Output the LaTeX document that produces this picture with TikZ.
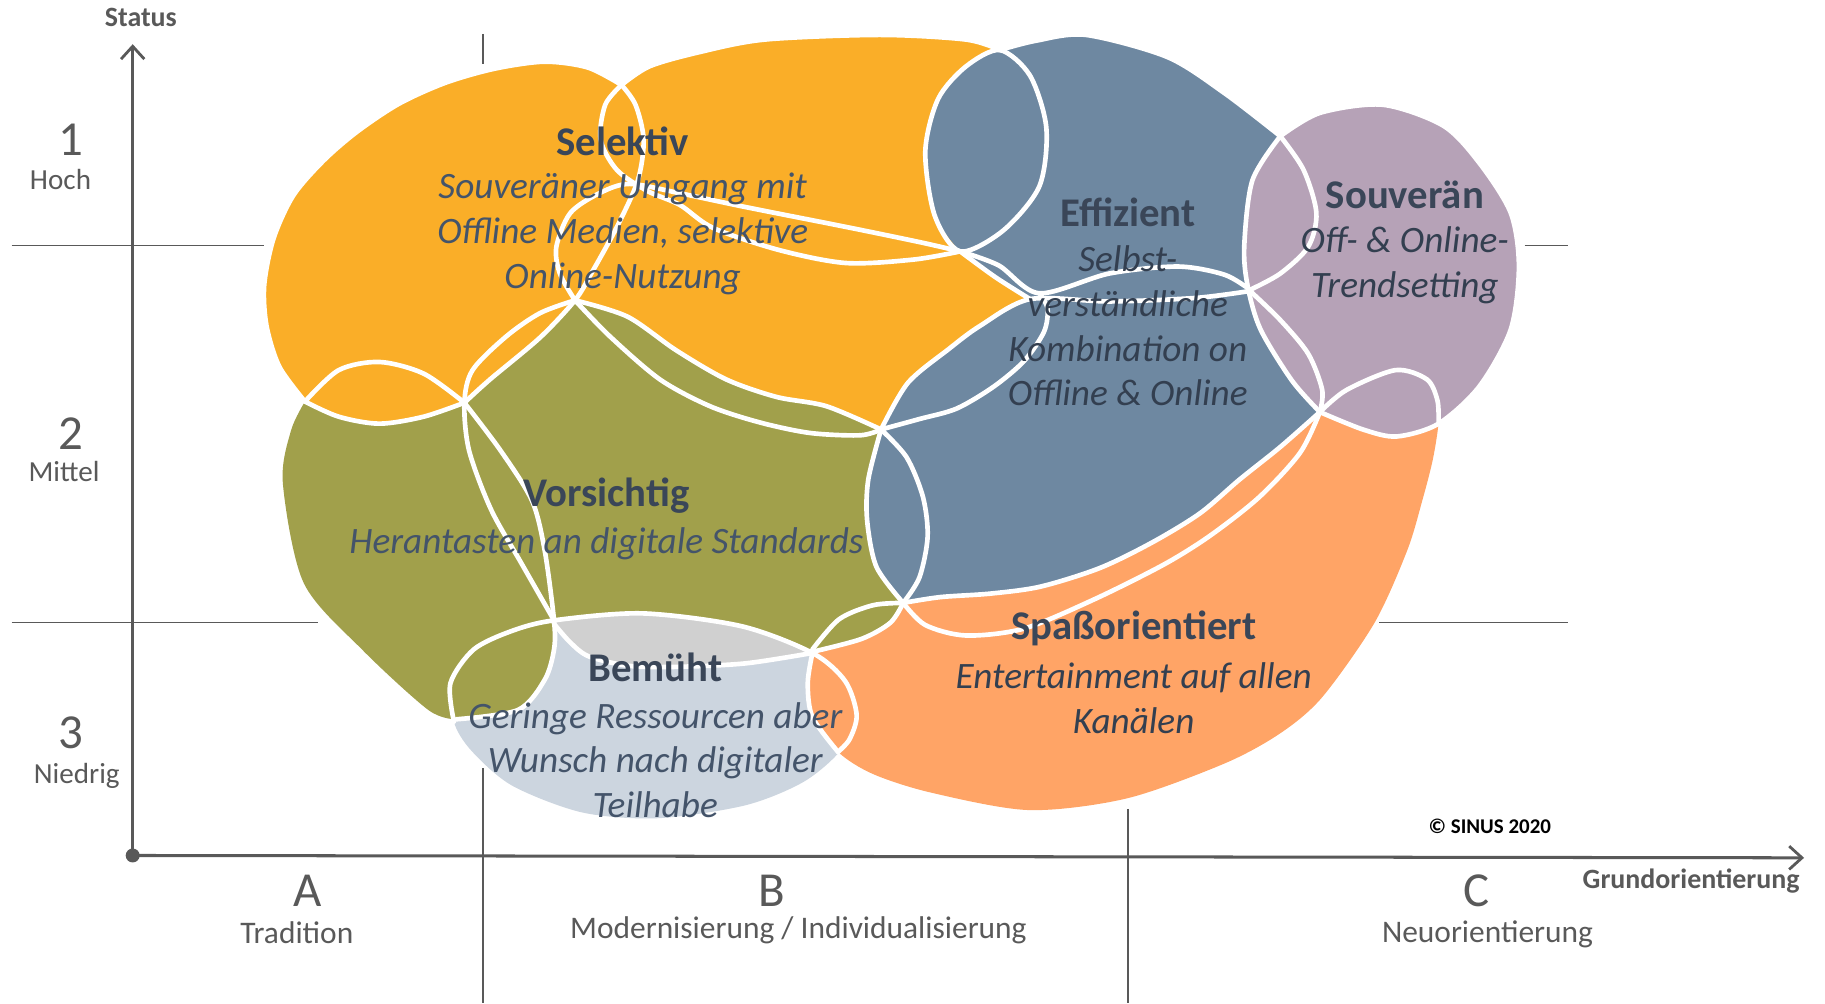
\documentclass[tikz,border=0pt]{standalone}
\usepackage{fontspec}
\setmainfont{Carlito}
\usetikzlibrary{arrows.meta}
\definecolor{cOrange}{HTML}{FAAE28}
\definecolor{cOlive}{HTML}{A1A04B}
\definecolor{cBlue}{HTML}{6E88A1}
\definecolor{cLav}{HTML}{B6A2B7}
\definecolor{cPeach}{HTML}{FFA466}
\definecolor{cLB}{HTML}{CCD5DF}
\definecolor{cGray}{HTML}{D0D0D0}
\definecolor{cTitle}{HTML}{3A4658}
\definecolor{cSub}{HTML}{44546A}
\definecolor{cSubD}{HTML}{333F50}
\definecolor{cAxis}{HTML}{595959}
\tikzset{
  wl/.style={white, line width=4pt, line cap=round, line join=round},
  gridline/.style={cAxis, line width=1.3pt},
  axisline/.style={cAxis, line width=2.6pt},
  ttl/.style={text=cTitle, inner sep=0pt, font=\fontsize{35}{40}\selectfont\bfseries},
  sub/.style={text=cSub, inner sep=0pt, align=center, font=\fontsize{32}{38.5}\selectfont\itshape},
  subd/.style={sub, text=cSubD},
  lvl/.style={text=cAxis, inner sep=0pt, text height=26pt, text depth=0pt, font=\fontsize{42}{46}\selectfont},
  lvls/.style={text=cAxis, inner sep=0pt, text height=16pt, text depth=4pt, font=\fontsize{25}{28}\selectfont},
  grp/.style={text=cAxis, inner sep=0pt, font=\fontsize{27}{30}\selectfont},
  axt/.style={text=cAxis, inner sep=0pt, font=\fontsize{24}{28}\selectfont\bfseries},
}
\begin{document}
\begin{tikzpicture}[x=1pt,y=-1pt]
\useasboundingbox (0,0) rectangle (1568,862);

% ---------- grid lines ----------
\draw[gridline] (10,211) -- (227,211);
\draw[gridline] (1310,211) -- (1347,211);
\draw[gridline] (10,535) -- (273,535);
\draw[gridline] (1185,535) -- (1347,535);
\draw[gridline] (415,29) -- (415,55);
\draw[gridline] (415,660) -- (415,862);
\draw[gridline] (969,695) -- (969,862);

% ---------- fills ----------
\fill[cLB] plot[smooth cycle] coordinates {(476,533) (552,527) (637,538) (698,561) (726,585) (736,614) (722,645) (690,672) (640,692) (565,703) (500,698) (440,675) (405,645) (390,620) (392,590) (420,555)};

\fill[cPeach] plot[smooth] coordinates {(700,561) (694,587) (698,616) (720,646) (750,665) (800,681) (884,696) (968,686) (1052,656) (1100,630) (1136,599) (1181,535) (1209,473) (1222,430) (1231,395) (1236,363) (1235,344) (1226,326) (1199,318) (1157,335) (1134,354)} -- (1000,440) -- (776,518) -- cycle;

\fill[cOlive] plot[smooth] coordinates {(262,345) (291,318) (326,311) (364,321) (399,346)}
  -- plot[smooth] coordinates {(399,346) (421,326) (464,290) (494,258)}
  -- plot[smooth] coordinates {(494,258) (539,272) (581,301) (624,326) (667,341) (710,349) (757,369)}
  -- (800,430) -- (776,518)
  -- plot[smooth] coordinates {(776,518) (765,535) (740,549) (698,560)}
  -- plot[smooth] coordinates {(698,561) (637,538) (552,527) (476,533)}
  -- plot[smooth] coordinates {(476,533) (476,558) (468,584) (445,610) (392,618)}
  -- plot[smooth] coordinates {(392,618) (368,610) (311,558) (261,501) (243,415) (250,370) (262,345)} -- cycle;

\fill[cGray] plot[smooth] coordinates {(476,533) (552,527) (637,538) (698,561)}
  -- plot[smooth] coordinates {(698,561) (640,570) (579,573) (540,572) (506,564) (490,552) (476,536)} -- cycle;

\fill[cOrange] plot[smooth] coordinates {(262,345) (240,315) (229,280) (227,245) (235,205) (252,168) (278,138) (307,113) (343,89) (383,71) (425,59) (468,53) (505,58) (534,73)}
  -- plot[smooth] coordinates {(534,73) (558,57) (600,45) (657,34) (756,30) (830,34) (859,43)}
  -- (880,100) -- (870,180) -- (825,216)
  -- plot[smooth] coordinates {(825,216) (855,238) (885,257)}
  -- plot[smooth] coordinates {(885,257) (842,280) (815,300) (780,329) (757,369)}
  -- plot[smooth] coordinates {(757,369) (710,349) (667,341) (624,326) (581,301) (539,272) (494,258)}
  -- plot[smooth] coordinates {(494,258) (464,290) (421,326) (399,346)}
  -- plot[smooth] coordinates {(399,346) (364,358) (326,364) (291,358) (262,345)} -- cycle;

\fill[cBlue] plot[smooth] coordinates {(859,43) (890,35) (933,30) (1003,49) (1052,80) (1100,117)}
  -- plot[smooth] coordinates {(1100,117) (1076,155) (1069,212) (1072,246) (1083,283) (1110,327) (1134,354)}
  -- plot[smooth] coordinates {(1134,354) (1100,384) (1065,412) (1031,441) (990,466) (945,488) (894,504) (851,510) (808,513) (776,518)}
  -- plot[smooth] coordinates {(776,518) (753,487) (745,447) (746,412) (757,369)}
  -- plot[smooth] coordinates {(757,369) (780,329) (815,300) (842,280) (885,257)}
  -- plot[smooth] coordinates {(885,257) (855,238) (825,216)}
  -- plot[smooth] coordinates {(825,216) (803,185) (795,130) (806,85) (830,57) (859,43)} -- cycle;

\fill[cLav] plot[smooth] coordinates {(1100,117) (1134,97) (1188,90) (1240,108) (1271,140) (1298,183) (1305,229) (1298,283) (1271,332) (1236,364) (1200,375) (1171,369) (1134,354)}
  -- plot[smooth] coordinates {(1134,354) (1110,327) (1083,283) (1072,246) (1069,212) (1076,155) (1100,117)} -- cycle;

% ---------- white outlines ----------
\draw[wl] plot[smooth] coordinates {(262,345) (240,315) (229,280) (227,245) (235,205) (252,168) (278,138) (307,113) (343,89) (383,71) (425,59) (468,53) (505,58) (534,73)};
\draw[wl] plot[smooth] coordinates {(534,73) (558,57) (600,45) (657,34) (756,30) (830,34) (859,43)};
\draw[wl] plot[smooth] coordinates {(859,43) (890,35) (933,30) (1003,49) (1052,80) (1100,117)};
\draw[wl] plot[smooth] coordinates {(1100,117) (1134,97) (1188,90) (1240,108) (1271,140) (1298,183) (1305,229) (1298,283) (1271,332) (1236,364) (1200,375) (1171,369) (1134,354)};
\draw[wl] plot[smooth] coordinates {(1134,354) (1110,327) (1083,283) (1072,246) (1069,212) (1076,155) (1100,117)};
\draw[wl] plot[smooth] coordinates {(1100,117) (1120,146) (1131,183) (1124,212) (1100,235) (1074,249)};
\draw[wl] plot[smooth] coordinates {(1074,249) (1052,236) (1012,229) (953,235) (893,252) (858,228) (825,216)};
\draw[wl] plot[smooth] coordinates {(757,369) (780,329) (815,300) (842,280) (885,257) (953,259) (1027,256) (1074,250)};
\draw[wl] plot[smooth] coordinates {(1074,250) (1100,275) (1124,304) (1136,335) (1134,354)};
\draw[wl] plot[smooth] coordinates {(757,369) (790,360) (822,351) (854,332) (880,310) (897,285) (900,265) (893,252)};
\draw[wl] plot[smooth cycle] coordinates {(859,43) (885,65) (899,110) (893,160) (862,198) (825,216) (803,185) (795,130) (806,85) (830,57)};
\draw[wl] plot[smooth] coordinates {(494,258) (481,235) (478,212) (490,183) (515,166) (541,158) (584,166) (641,178) (727,195) (790,208) (825,216)};
\draw[wl] plot[smooth] coordinates {(825,216) (855,238) (885,257)};
\draw[wl] plot[smooth] coordinates {(534,73) (520,90) (516,120) (530,146) (556,164) (584,176) (613,196) (670,215) (727,226) (785,223) (825,216)};
\draw[wl] plot[smooth] coordinates {(534,73) (546,90) (553,120) (548,155) (530,195) (508,235) (494,258) (464,290) (421,326) (399,346)};
\draw[wl] plot[smooth] coordinates {(494,258) (464,269) (435,289) (406,318) (399,346) (403,387) (422,438) (448,484) (476,533)};
\draw[wl] plot[smooth] coordinates {(399,346) (430,387) (457,430) (468,473) (476,533) (476,558) (468,584) (445,610) (392,618)};
\draw[wl] plot[smooth] coordinates {(262,345) (291,358) (326,364) (364,358) (399,346)};
\draw[wl] plot[smooth] coordinates {(262,345) (291,318) (326,311) (364,321) (399,346)};
\draw[wl] plot[smooth] coordinates {(494,258) (539,272) (581,301) (624,326) (667,341) (710,349) (757,369)};
\draw[wl] plot[smooth] coordinates {(494,258) (524,289) (567,326) (610,349) (653,363) (696,372) (739,374) (757,369)};
\draw[wl] plot[smooth] coordinates {(757,369) (746,412) (745,447) (753,487) (776,518)};
\draw[wl] plot[smooth] coordinates {(757,369) (779,393) (793,427) (797,461) (790,496) (776,518)};
\draw[wl] plot[smooth] coordinates {(776,518) (808,513) (851,510) (894,504) (945,488) (990,466) (1031,441) (1065,412) (1100,384) (1134,354)};
\draw[wl] plot[smooth] coordinates {(776,518) (795,537) (830,546) (880,540) (940,515) (1000,485) (1040,460) (1082,427) (1117,389) (1134,354)};
\draw[wl] plot[smooth] coordinates {(776,518) (750,520) (721,532) (698,558)};
\draw[wl] plot[smooth] coordinates {(776,518) (765,535) (740,549) (698,560)};
\draw[wl] plot[smooth] coordinates {(390,620) (387,587) (407,558) (440,542) (476,533) (552,527) (637,538) (698,561) (726,585) (736,614) (730,635) (720,646)};
\draw[wl] plot[smooth] coordinates {(476,536) (490,552) (506,564) (540,572) (579,573) (640,570) (698,561)};
\draw[wl] plot[smooth] coordinates {(698,561) (694,587) (698,616) (720,646)};
\draw[wl] plot[smooth] coordinates {(1134,354) (1157,335) (1199,318) (1226,326) (1235,344) (1236,363)};

% ---------- axes ----------
\coordinate (O) at (114,735);
\coordinate (Ytip) at (114,38);
\coordinate (Xtip) at (1550,737);
\draw[axisline, -{Straight Barb[length=11pt,width=20pt,line width=2.4pt]}] (O) -- (Ytip);
\draw[axisline, -{Straight Barb[length=11pt,width=20pt,line width=2.4pt]}] (O) -- (Xtip);
\fill[cAxis] (O) circle (6);
\draw[gridline] (114,211) -- (227,211);

% ---------- axis labels ----------
\node[axt] (status) at (121,15) {Status};
\node[axt] (grund) at (1453,757) {Grundorientierung};
\node[lvl] (n1) at (61,121) {1};
\node[lvls] (hoch) at (52,157) {Hoch};
\node[lvl] (n2) at (61,373) {2};
\node[lvls] (mittel) at (55,408) {Mittel};
\node[lvl] (n3) at (61,630) {3};
\node[lvls] (niedrig) at (66,667) {Niedrig};
\node[lvl] (la) at (264,766) {A};
\node[grp] (tradition) at (255,801) {Tradition};
\node[lvl] (lb) at (663,766) {B};
\node[grp] (modern) at (686,799) {Modernisierung / Individualisierung};
\node[lvl] (lc) at (1269,766) {C};
\node[grp] (neu) at (1278,803) {Neuorientierung};
\node[text=black, inner sep=0pt, font=\fontsize{18}{20}\selectfont\bfseries] (sinus) at (1280,710) {© SINUS 2020};

% ---------- segment texts ----------
\node[ttl] (selT) at (535,121) {Selektiv};
\node[sub] (selS) at (535,201) {Souveräner Umgang mit\\Offline Medien, selektive\\Online-Nutzung};
\node[ttl] (effT) at (969,182) {Effizient};
\node[subd] (effS) at (969,280) {Selbst-\\verständliche\\Kombination on\\Offline \& Online};
\node[ttl] (souT) at (1207,167) {Souverän};
\node[subd] (souS) at (1207,228) {Off- \& Online-\\Trendsetting};
\node[ttl] (vorT) at (521,426) {Vorsichtig};
\node[sub] (vorS) at (521,467) {Herantasten an digitale Standards};
\node[ttl] (bemT) at (563,573) {Bemüht};
\node[sub] (bemS) at (563,653) {Geringe Ressourcen aber\\Wunsch nach digitaler\\Teilhabe};
\node[ttl] (spaT) at (974,540) {Spaßorientiert};
\node[subd] (spaS) at (974,600) {Entertainment auf allen\\Kanälen};
\end{tikzpicture}
\end{document}
